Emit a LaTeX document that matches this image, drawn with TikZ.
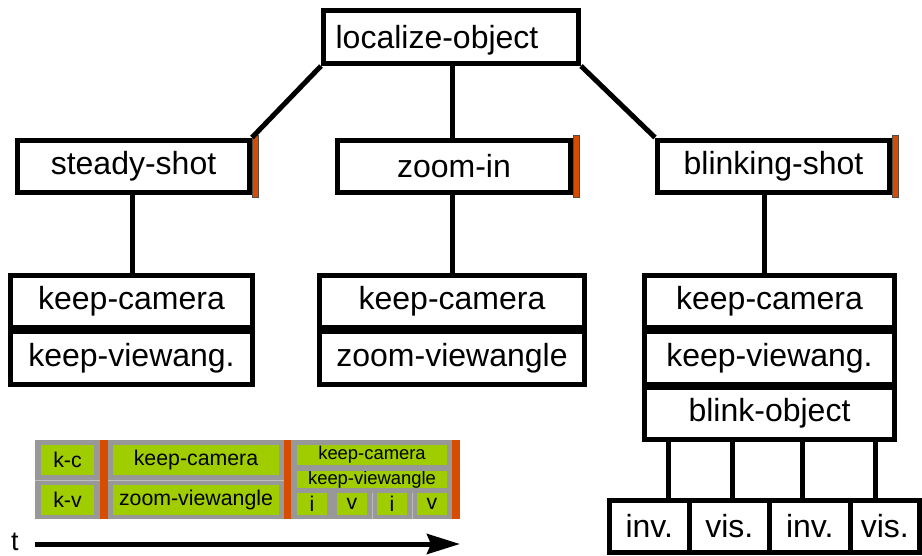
\documentclass[tikz,border=0pt]{standalone}
\usepackage{fontspec}
\setmainfont{Liberation Sans}
\usetikzlibrary{arrows.meta,calc}
\definecolor{barorange}{RGB}{214,76,0}
\definecolor{slotgreen}{RGB}{160,205,0}
\definecolor{slotgray}{RGB}{152,152,152}
\definecolor{seamgray}{RGB}{190,190,190}
\tikzset{
  box/.style={draw=black, line width=5pt, fill=white, inner sep=0pt,
    font=\fontsize{32}{36}\selectfont},
  obar/.style={draw=black!70, line width=0.8pt, fill=barorange, inner sep=0pt,
    outer sep=0pt, minimum width=6pt, minimum height=62pt, anchor=west},
  link/.style={line width=5pt},
  slot/.style={fill=slotgreen, inner sep=0pt, font=\fontsize{21.3}{24}\selectfont},
  smallslot/.style={slot, font=\fontsize{18.4}{21}\selectfont},
  seam/.style={draw=seamgray, line width=1pt},
}
\begin{document}
\begin{tikzpicture}[x=1pt, y=-1pt]
\useasboundingbox (0,0) rectangle (922,555);

% root task
\node[box, minimum width=255pt, minimum height=53pt] (lo) at (451,37) {};
\node[font=\fontsize{32}{36}\selectfont, inner sep=0pt] (lotext) at (437,40) {localize-object};

% first level
\node[box, minimum width=232pt, minimum height=52pt] (ss) at (133.5,166) {steady-shot};
\node[box, minimum width=233pt, minimum height=52pt] (zi) at (454,166) {zoom-in};
\node[box, minimum width=232pt, minimum height=52pt] (bs) at (773.5,166) {blinking-shot};
\node[obar] (ssbar) at ([xshift=0.5pt]ss.east) {};
\node[obar] (zibar) at ([xshift=0.5pt]zi.east) {};
\node[obar] (bsbar) at ([xshift=0.5pt]bs.east) {};

\draw[link] (lo.south west) -- (ss.north east);
\draw[link] (lo.south -| 452,0) -- (zi.north -| 452,0);
\draw[link] (lo.south east) -- (bs.north west);

% second level
\node[box, minimum width=242pt, minimum height=52pt] (kc1) at (131.5,301.5) {keep-camera};
\node[box, minimum width=242pt, minimum height=53pt] (kv1) at (131.5,358) {keep-viewang.};
\node[box, minimum width=265pt, minimum height=52pt] (kc2) at (452,301.5) {keep-camera};
\node[box, minimum width=265pt, minimum height=53pt] (zv2) at (452,358) {zoom-viewangle};
\node[box, minimum width=250pt, minimum height=52pt] (kc3) at (769.5,301.5) {keep-camera};
\node[box, minimum width=250pt, minimum height=53pt] (kv3) at (769.5,358) {keep-viewang.};
\node[box, minimum width=250pt, minimum height=52pt] (bo) at (769.5,413.5) {blink-object};

\draw[link] (ss.south -| 132,0) -- (kc1.north -| 132,0);
\draw[link] (zi.south -| 452,0) -- (kc2.north -| 452,0);
\draw[link] (bs.south -| 764,0) -- (kc3.north -| 764,0);

% blink phases
\node[box, minimum width=79.5pt, minimum height=52pt] (p1) at (649.25,526) {inv.};
\node[box, minimum width=80.5pt, minimum height=52pt] (p2) at (729.25,526) {vis.};
\node[box, minimum width=80.5pt, minimum height=52pt] (p3) at (809.75,526) {inv.};
\node[box, minimum width=69.5pt, minimum height=52pt] (p4) at (884.75,526) {vis.};

\path (p1.north) ++(19,0) coordinate (c1);
\path (p2.north) ++(3,0) coordinate (c2);
\path (p3.north) ++(-7,0) coordinate (c3);
\path (p4.north) ++(-9,0) coordinate (c4);
\foreach \c in {c1,c2,c3,c4}
  \draw[link] (\c |- bo.south) -- (\c);

% timeline strip
\fill[slotgray] (35,440) rectangle (460,519);
\draw[seam] (35,480) -- (100,480);
\draw[seam] (108,480) -- (284,480);
\draw[seam] (372,493) -- (372,519);
\draw[seam] (412,493) -- (412,519);
\fill[barorange] (100,440) rectangle (108,519);
\fill[barorange] (284,440) rectangle (291,519);
\fill[barorange] (452,440) rectangle (460,519);

\node[slot, minimum width=53pt, minimum height=30pt] (tkc) at (67.5,460) {k-c};
\node[slot, minimum width=53pt, minimum height=30pt] (tkv) at (67.5,500) {k-v};
\node[slot, minimum width=166pt, minimum height=30pt] (tkc2) at (196,460) {keep-camera};
\node[slot, minimum width=166pt, minimum height=30pt] (tzv2) at (196,500) {zoom-viewangle};
\node[smallslot, minimum width=150pt, minimum height=20pt] (tkc3) at (372,455) {keep-camera};
\begin{scope}
  \clip (297,471) rectangle (447,487);
  \node[smallslot, minimum width=150pt, minimum height=16pt] (tkv3) at (372,480) {keep-viewangle};
\end{scope}
\node[slot, minimum width=30pt, minimum height=22pt] (ti1) at (312,504) {i};
\node[slot, minimum width=30pt, minimum height=22pt] (tv1) at (352,504) {v};
\node[slot, minimum width=30pt, minimum height=22pt] (ti2) at (392,504) {i};
\node[slot, minimum width=30pt, minimum height=22pt] (tv2) at (432,504) {v};

% time axis
\coordinate (tstart) at (35,544);
\coordinate (tend) at (460,544);
\draw[line width=5pt, -{Stealth[length=33pt, width=20pt, inset=4pt]}] (tstart) -- (tend);
\node[font=\fontsize{27}{30}\selectfont, inner sep=0pt] (tlabel) at (15,542) {t};
\end{tikzpicture}
\end{document}
